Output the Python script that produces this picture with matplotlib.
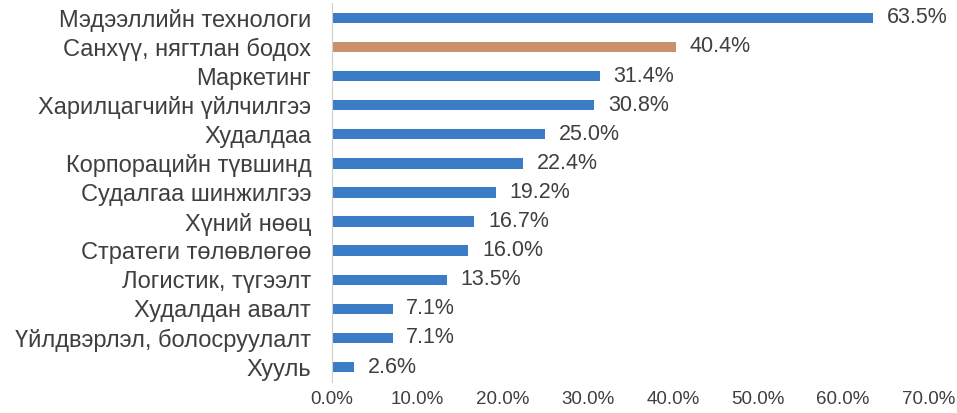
import matplotlib
matplotlib.use("Agg")
import matplotlib.pyplot as plt

# categories top to bottom
categories = [
    "Мэдээллийн технологи",
    "Санхүү, нягтлан бодох",
    "Маркетинг",
    "Харилцагчийн үйлчилгээ",
    "Худалдаа",
    "Корпорацийн түвшинд",
    "Судалгаа шинжилгээ",
    "Хүний нөөц",
    "Стратеги төлөвлөгөө",
    "Логистик, түгээлт",
    "Худалдан авалт",
    "Үйлдвэрлэл, болосруулалт",
    "Хууль",
]
values = [63.5, 40.4, 31.4, 30.8, 25.0, 22.4, 19.2, 16.7, 16.0, 13.5, 7.1, 7.1, 2.6]
highlight = "Санхүү, нягтлан бодох"
x_ticks = [0, 10, 20, 30, 40, 50, 60, 70]

blue = "#3a7cc6"
orange = "#c8916b"
text_col = "#3f3f3f"

plt.rcParams["font.family"] = ["Liberation Sans", "DejaVu Sans"]

fig = plt.figure(figsize=(9.57, 4.13), dpi=100)
ax = fig.add_axes([0.347, 0.076, 0.623, 0.916])

ypos = list(range(len(categories)))
colors = [orange if c == highlight else blue for c in categories]
ax.barh(ypos, values, height=0.36, color=colors)

for y, v in zip(ypos, values):
    ax.text(v + 1.6, y, "%.1f%%" % v, va="center", ha="left",
            fontsize=15.5, color=text_col)

ax.set_yticks(ypos)
ax.set_yticklabels(categories, fontsize=17, color=text_col)
ax.set_ylim(len(categories) - 0.5, -0.5)

ax.set_xlim(0, 70)
ax.set_xticks(x_ticks)
ax.set_xticklabels(["%.1f%%" % t for t in x_ticks], fontsize=13.5, color=text_col)

for s in ["top", "right", "bottom"]:
    ax.spines[s].set_visible(False)
ax.spines["left"].set_color("#d0d0d0")
ax.tick_params(axis="both", length=0)
ax.tick_params(axis="y", pad=15)
ax.tick_params(axis="x", pad=7)

fig.savefig("out.png", dpi=100)
